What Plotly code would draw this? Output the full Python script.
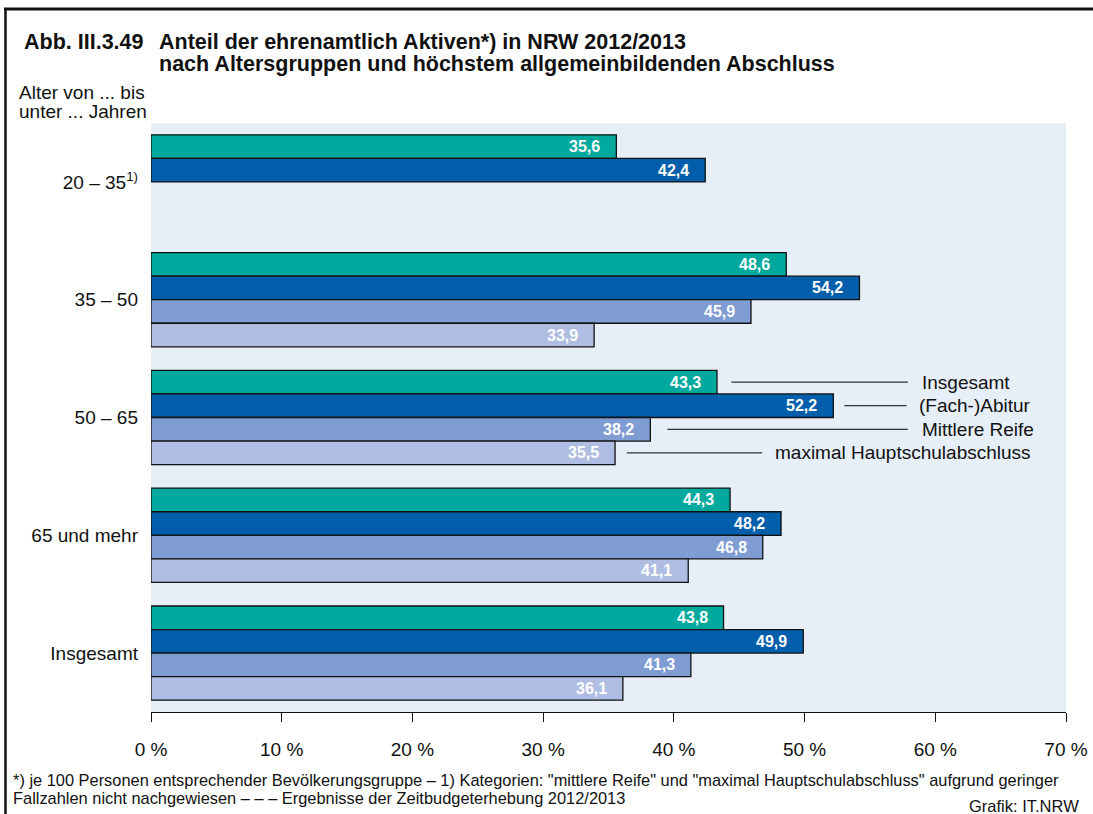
import plotly.graph_objects as go

# ---------------- data ----------------
categories = ["20 – 35<sup>1)</sup>", "35 – 50", "50 – 65", "65 und mehr", "Insgesamt"]
series_names = ["Insgesamt", "(Fach-)Abitur", "Mittlere Reife", "maximal Hauptschulabschluss"]
insgesamt = [35.6, 48.6, 43.3, 44.3, 43.8]
abitur = [42.4, 54.2, 52.2, 48.2, 49.9]
mittlere_reife = [None, 45.9, 38.2, 46.8, 41.3]
hauptschule = [None, 33.9, 35.5, 41.1, 36.1]
x_ticks = [0, 10, 20, 30, 40, 50, 60, 70]

series_values = [insgesamt, abitur, mittlere_reife, hauptschule]
colors = ["#00A99D", "#005EAB", "#7F9CD3", "#AFBDE3"]

W, H = 1093, 814
L, R, T, B = 151, 1066, 123, 712


def px(x):
    return (x - L) / (R - L)


def py(y):
    return (B - y) / (B - T)


FONT = "Liberation Sans, Arial, sans-serif"

fig = go.Figure()
for name, vals, col in zip(series_names, series_values, colors):
    fig.add_trace(go.Bar(
        y=categories, x=vals, name=name, orientation="h",
        marker=dict(color=col, line=dict(color="#111111", width=1.3)),
        hoverinfo="x+name",
    ))

offsets = [-0.3, -0.1, 0.1, 0.3]
annotations = []
# value labels inside bars
for si, vals in enumerate(series_values):
    for ci, v in enumerate(vals):
        if v is None:
            continue
        annotations.append(dict(
            x=v, y=ci + offsets[si], xref="x", yref="y",
            text="<b>" + f"{v:.1f}".replace(".", ",") + "</b>",
            showarrow=False, xanchor="right", yanchor="middle", xshift=-14,
            font=dict(family=FONT, size=16, color="white"),
        ))

# legend lines (attached to group "50 – 65")
legend_cat = 2
line_end = [57.9, 57.8, 57.9, 46.75]
text_x = [58.8, 58.6, 58.8, 47.6]
line_start_gap = [1.1, 0.85, 1.3, 0.9]
shapes = []
for si, vals in enumerate(series_values):
    v = vals[legend_cat]
    yy = legend_cat + offsets[si]
    shapes.append(dict(type="line", xref="x", yref="y",
                       x0=v + line_start_gap[si], x1=line_end[si], y0=yy, y1=yy,
                       line=dict(color="#333333", width=1.3)))
    annotations.append(dict(
        x=text_x[si], y=yy, xref="x", yref="y", text=series_names[si],
        showarrow=False, xanchor="left", yanchor="middle",
        font=dict(family=FONT, size=19, color="#111111"),
    ))

# frame
shapes.append(dict(type="line", xref="paper", yref="paper",
                   x0=px(4), x1=px(1093), y0=py(9), y1=py(9),
                   line=dict(color="#111111", width=3)))
shapes.append(dict(type="line", xref="paper", yref="paper",
                   x0=px(5.5), x1=px(5.5), y0=py(8), y1=py(814),
                   line=dict(color="#111111", width=2.5)))


def text_ann(x, y, text, size=19, anchor="left", bold=False):
    if bold:
        text = "<b>" + text + "</b>"
    return dict(x=px(x), y=py(y), xref="paper", yref="paper", text=text,
                showarrow=False, xanchor=anchor, yanchor="middle", align=anchor,
                font=dict(family=FONT, size=size, color="#111111"))


annotations += [
    text_ann(22, 42, "Abb. III.3.49", 21.5, bold=True),
    text_ann(157, 42, "Anteil der ehrenamtlich Aktiven*) in NRW 2012/2013", 21.5, bold=True),
    text_ann(157, 64, "nach Altersgruppen und höchstem allgemeinbildenden Abschluss", 21.5, bold=True),
    text_ann(17, 92, "Alter von ... bis", 19),
    text_ann(17, 112, "unter ... Jahren", 19),
    text_ann(11, 780, "*) je 100 Personen entsprechender Bevölkerungsgruppe – 1) Kategorien: \"mittlere Reife\" und \"maximal Hauptschulabschluss\" aufgrund geringer", 16.4),
    text_ann(11, 798, "Fallzahlen nicht nachgewiesen – – – Ergebnisse der Zeitbudgeterhebung 2012/2013", 16.4),
    text_ann(1081, 806, "Grafik: IT.NRW", 16.5, anchor="right"),
]

fig.update_layout(
    width=W, height=H,
    margin=dict(l=L, r=W - R, t=T, b=H - B, autoexpand=False),
    paper_bgcolor="white", plot_bgcolor="#E6EEF8",
    barmode="group", bargap=0.2, bargroupgap=0,
    showlegend=False,
    separators=",.",
    font=dict(family=FONT, size=19, color="#111111"),
    annotations=annotations, shapes=shapes,
)
fig.update_xaxes(
    range=[0, 70], tickvals=x_ticks, ticktext=[f"{t} %" for t in x_ticks],
    showgrid=False, zeroline=False, showline=True, linecolor="#111111", linewidth=1.3,
    ticks="outside", ticklen=9, tickwidth=1.3, tickcolor="#111111",
    ticklabelstandoff=11, tickfont=dict(size=19),
)
fig.update_yaxes(
    autorange="reversed", showgrid=False, zeroline=False, showline=False,
    ticks="", ticklabelstandoff=12, tickfont=dict(size=19),
)

fig.write_html(
    "out.html",
    config={"displayModeBar": False},
    post_script="document.body.style.margin='0';document.body.style.overflow='hidden';",
)
